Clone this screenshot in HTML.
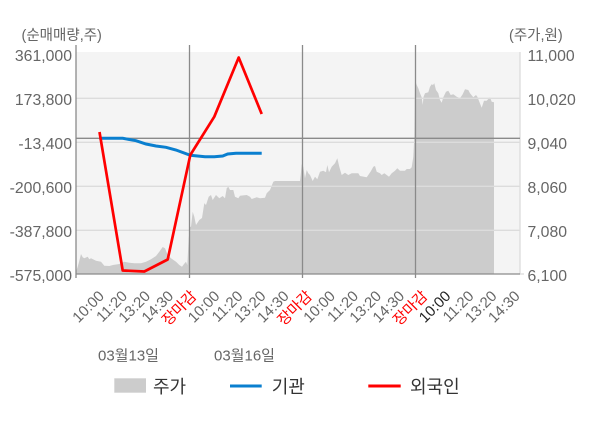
<!DOCTYPE html>
<html><head><meta charset="utf-8"><style>
html,body{margin:0;padding:0;background:#fff;}
svg{display:block;font-family:"Liberation Sans","Noto Sans CJK KR",sans-serif;}
</style></head><body>
<svg width="600" height="428" viewBox="0 0 600 428" xmlns="http://www.w3.org/2000/svg">
<rect x="76" y="52" width="444" height="222" fill="#f4f4f4"/>
<polygon fill="#cccccc" points="76,274 76,271.7 77.7,266.7 79,262 81,254 82.7,257.3 84.3,258.3 87.7,256.7 89.3,259.3 91,258.3 96,260.7 101,261.7 104.3,265.7 109.3,266 113,265 119.3,264 124.3,261.7 129.3,262.7 134.3,263.3 141,263.3 146,261.7 151,259.3 156,256 159.3,251.7 162.7,247 165,248.3 167.7,255 171,258.3 176,261.7 179.3,265 182,266.7 184,264 186,261.7 187.3,265 188.7,238.3 190,226.7 191,226.7 192.7,211.7 194.3,216.7 196,225 199.3,220 202,218 204.3,203.3 206,205 208.7,196.7 211,195 212.7,200 216,195 219.3,198.3 222.7,196 225,198.3 226.7,188.3 228.3,186.7 230,190 233.3,190 235,196.7 238.3,198.3 240,195.7 246.7,195 250,196.7 251.7,199 256.7,197.3 260,198.3 265,197.7 266.7,193.3 270,190 273.3,181.7 275,181 300,181 300.7,175 301.7,164.3 303.3,166.7 305,178.3 306.7,170 308.3,173.3 310,175 312.7,181 315,176.7 317.3,179.3 320,171.7 323.3,170.7 326,172.3 327.3,165 329,172.3 331.7,166.7 335,163.3 337.3,158.3 339.3,166.7 341.7,175 345,172.7 348.3,175 351.7,173.3 358.3,173.3 360,176 366.7,177.3 368.3,175 371,171 373.3,166.7 375,166 376.7,171.7 380,173.3 381.7,175 384.3,173.3 386.7,175 389,176.7 391.7,173.3 395,170.7 397.3,168.3 400,170.7 405,170.7 406.7,169 410,169 411.7,167.3 413.3,156.7 414.3,137.3 415,80 416.7,85 418.3,88.3 420,93.3 421.7,97.3 422.7,105 423.5,97 425,93.3 428.3,92.3 430,86.7 431.7,84.3 433,85 434.3,83.3 436,90 438.3,93.3 440,100 441.7,102.7 443.3,97.3 446,91.7 448.3,90.7 450.7,95 453.3,94.3 456.7,96.7 460,98.3 462.7,94.3 465,89.3 468.3,90 470,93.3 473.3,97.3 476,95 477.5,97 479.3,101.7 481.7,107.7 484,100.7 486.7,100.7 490,97.3 491.7,101.7 494,102.3 494,274"/>
<g stroke="#dcdcdc" stroke-width="1.3">
<line x1="76" y1="98.3" x2="520" y2="98.3"/>
<line x1="76" y1="142.3" x2="520" y2="142.3"/>
<line x1="76" y1="186.3" x2="520" y2="186.3"/>
<line x1="76" y1="230.3" x2="520" y2="230.3"/>
<line x1="520" y1="52" x2="520" y2="274"/>
<line x1="520" y1="274" x2="524" y2="274"/>
</g>
<g stroke="#8a8a8a" stroke-width="1.3">
<line x1="76" y1="138.3" x2="520" y2="138.3"/>
<line x1="76" y1="45" x2="76" y2="278"/>
<line x1="76" y1="274" x2="520" y2="274"/>
<line x1="189.5" y1="45" x2="189.5" y2="278"/>
<line x1="302.5" y1="45" x2="302.5" y2="278"/>
<line x1="415.5" y1="45" x2="415.5" y2="278"/>
</g>
<polyline fill="none" stroke="#0a7fcf" stroke-width="3" points="99.3,138.3 122.7,138.3 136,140.7 146,144 156,146 166,147.3 176,150 190.3,155.3 205,156.7 214.3,156.7 222.7,156 227.7,154 236,153.3 261.7,153.3"/>
<polyline fill="none" stroke="#ff0000" stroke-width="2.7" stroke-linejoin="round" points="99.5,132 122.7,270.5 144.3,271.5 167.7,259.5 190.3,155 214.3,116.7 238.7,57.5 261.7,114"/>
<g font-size="15.8" fill="#666" text-anchor="end">
<text x="72" y="60.8">361,000</text>
<text x="72" y="104.8">173,800</text>
<text x="72" y="148.8">-13,400</text>
<text x="72" y="192.8">-200,600</text>
<text x="72" y="236.8">-387,800</text>
<text x="72" y="280.8">-575,000</text>
</g>
<g font-size="15.8" fill="#666">
<text x="527.5" y="60.8">11,000</text>
<text x="527.5" y="104.8">10,020</text>
<text x="527.5" y="148.8">9,040</text>
<text x="527.5" y="192.8">8,060</text>
<text x="527.5" y="236.8">7,080</text>
<text x="527.5" y="280.8">6,100</text>
</g>
<text x="21.5" y="40" font-size="14.5" fill="#666">(순매매량,주)</text>
<text x="509" y="40" font-size="14.5" fill="#666">(주가,원)</text>
<g font-size="15" text-anchor="end">
<text transform="translate(105,297) rotate(-45)" fill="#666">10:00</text>
<text transform="translate(128.1,297) rotate(-45)" fill="#666">11:20</text>
<text transform="translate(151.2,297) rotate(-45)" fill="#666">13:20</text>
<text transform="translate(174.3,297) rotate(-45)" fill="#666">14:30</text>
<text transform="translate(197.4,297) rotate(-45)" fill="#ff0000">장마감</text>
<text transform="translate(220.5,297) rotate(-45)" fill="#666">10:00</text>
<text transform="translate(243.6,297) rotate(-45)" fill="#666">11:20</text>
<text transform="translate(266.7,297) rotate(-45)" fill="#666">13:20</text>
<text transform="translate(289.8,297) rotate(-45)" fill="#666">14:30</text>
<text transform="translate(312.9,297) rotate(-45)" fill="#ff0000">장마감</text>
<text transform="translate(336,297) rotate(-45)" fill="#666">10:00</text>
<text transform="translate(359.1,297) rotate(-45)" fill="#666">11:20</text>
<text transform="translate(382.2,297) rotate(-45)" fill="#666">13:20</text>
<text transform="translate(405.3,297) rotate(-45)" fill="#666">14:30</text>
<text transform="translate(428.4,297) rotate(-45)" fill="#ff0000">장마감</text>
<text transform="translate(451.5,297) rotate(-45)" fill="#222">10:00</text>
<text transform="translate(474.6,297) rotate(-45)" fill="#666">11:20</text>
<text transform="translate(497.7,297) rotate(-45)" fill="#666">13:20</text>
<text transform="translate(520.8,297) rotate(-45)" fill="#666">14:30</text>
</g>
<g font-size="15" fill="#666">
<text x="98" y="360.5">03월13일</text>
<text x="214" y="360.5">03월16일</text>
</g>
<rect x="114.3" y="378.3" width="31.7" height="14.4" fill="#cccccc"/>
<line x1="230" y1="386" x2="261.7" y2="386" stroke="#0a7fcf" stroke-width="3"/>
<line x1="368.3" y1="386" x2="400.7" y2="386" stroke="#ff0000" stroke-width="3"/>
<g font-size="18" fill="#333">
<text x="153" y="393">주가</text>
<text x="271.7" y="393">기관</text>
<text x="410" y="393">외국인</text>
</g>
</svg>
</body></html>
